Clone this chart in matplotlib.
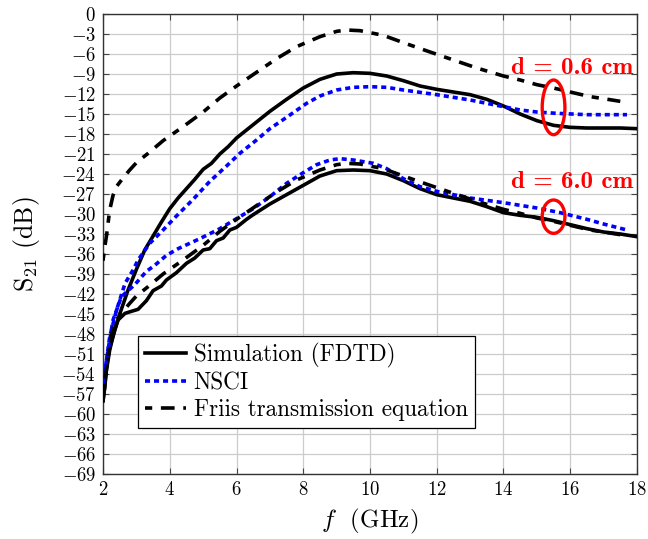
import matplotlib
matplotlib.use("Agg")
import matplotlib.pyplot as plt
from matplotlib.patches import Ellipse

plt.rcParams['font.family'] = 'cmr10'
plt.rcParams['mathtext.fontset'] = 'cm'
plt.rcParams['axes.formatter.use_mathtext'] = True

# d = 0.6 cm
sim06_f = [2.0, 2.05, 2.1, 2.2, 2.35, 2.5, 2.75, 3.0, 3.25, 3.5, 3.75, 4.0, 4.25, 4.5, 4.75,
           5.0, 5.25, 5.5, 5.75, 6.0, 6.5, 7.0, 7.5, 8.0, 8.5, 9.0, 9.5, 10.0, 10.5, 11.0,
           11.5, 12.0, 12.5, 13.0, 13.5, 14.0, 14.5, 15.0, 15.5, 16.0, 16.5, 17.0, 17.5, 18.0]
sim06_s = [-58, -56, -53, -50, -47.5, -45, -41.4, -38.3, -35.4, -33.3, -31.2, -29.2, -27.6, -26.2, -24.8,
           -23.3, -22.4, -21.0, -19.9, -18.6, -16.6, -14.6, -12.8, -11.1, -9.8, -9.0, -8.8, -8.9, -9.3, -10.0,
           -10.8, -11.3, -11.7, -12.1, -12.8, -13.8, -15.0, -16.0, -16.7, -17.0, -17.1, -17.1, -17.1, -17.2]

nsci06_f = [2.0, 2.1, 2.2, 2.4, 2.66, 2.9, 3.05, 3.4, 3.8, 4.2, 4.7, 5.2, 5.7, 6.1, 6.6, 7.0, 7.5,
            8.1, 8.5, 9.0, 9.5, 10.0, 10.5, 11.0, 12.0, 13.0, 14.0, 14.5, 15.0, 15.6, 16.5, 17.7]
nsci06_s = [-56, -52, -48.4, -44.5, -40.4, -38.4, -36.9, -34.4, -32.4, -30.3, -27.8, -25.1, -22.8, -20.9, -18.9, -17.2, -15.5,
            -13.4, -12.3, -11.4, -11.0, -10.9, -11.0, -11.4, -12.1, -12.9, -13.9, -14.4, -14.7, -14.9, -15.1, -15.1]

friis_f = [2.0, 2.05, 2.1, 2.2, 2.3, 2.4, 2.6, 2.8, 3.0, 3.35, 3.8, 4.4, 5.0, 5.5, 6.0, 6.7, 7.2,
           7.8, 8.5, 9.0, 9.3, 9.7, 10.0, 10.4, 11.0, 11.8, 12.5, 13.2, 14.0, 14.5, 15.0, 15.5,
           16.0, 16.6, 17.0, 17.5]
friis06_s = [-37, -35, -33.4, -29.4, -27.2, -25.9, -24.6, -23.4, -22.3, -20.9, -19.0, -16.9, -14.7, -12.6, -10.8, -8.4, -6.7,
             -4.9, -3.4, -2.6, -2.4, -2.5, -2.8, -3.2, -4.3, -5.7, -6.9, -8.1, -9.3, -9.9, -10.6, -11.1,
             -11.7, -12.4, -12.7, -13.1]

# d = 6.0 cm
sim60_f = [2.0, 2.05, 2.1, 2.2, 2.35, 2.45, 2.66, 2.85, 3.05, 3.3, 3.5, 3.75, 3.9, 4.2, 4.5, 4.75,
           5.0, 5.2, 5.4, 5.6, 5.8, 6.0, 6.3, 6.5, 7.0, 7.5, 8.0, 8.5, 9.0, 9.5, 10.0, 10.5,
           11.0, 11.5, 12.0, 12.5, 13.0, 13.5, 14.0, 14.5, 15.0, 15.5, 16.0, 16.5, 17.0, 17.5, 18.0]
sim60_s = [-58, -56, -53.5, -50.4, -47.3, -45.9, -44.9, -44.6, -44.3, -43.0, -41.5, -40.8, -39.9, -38.8, -37.4, -36.6,
           -35.4, -35.2, -34.0, -33.6, -32.4, -32.0, -30.8, -30.1, -28.5, -27.1, -25.7, -24.3, -23.5, -23.4, -23.5, -24.0,
           -25.0, -26.2, -27.1, -27.6, -28.1, -28.9, -29.8, -30.2, -30.5, -31.0, -31.6, -32.2, -32.7, -33.0, -33.4]

nsci60_f = [2.0, 2.15, 2.3, 2.55, 2.95, 3.3, 3.55, 3.9, 4.25, 4.9, 5.5, 6.1, 6.5, 7.0, 7.5, 8.0, 8.4,
            8.8, 9.1, 9.5, 10.1, 10.5, 11.0, 11.5, 12.0, 13.0, 14.0, 14.5, 15.0, 15.7, 16.5, 17.0, 17.7]
nsci60_s = [-55.4, -50.4, -45.9, -42.4, -40.6, -38.6, -37.7, -36.2, -35.2, -33.7, -32.2, -30.4, -29.2, -27.4, -25.4, -23.8, -22.6,
            -21.9, -21.7, -21.9, -22.4, -23.2, -24.7, -25.9, -26.6, -27.6, -28.3, -28.7, -29.1, -29.8, -30.8, -31.5, -32.4]

friis60_s = [-57, -55, -53.4, -49.4, -47.2, -45.9, -44.6, -43.4, -42.3, -40.9, -39.0, -36.9, -34.7, -32.6, -30.8, -28.4, -26.7,
             -24.9, -23.4, -22.6, -22.4, -22.5, -22.8, -23.2, -24.3, -25.7, -26.9, -28.1, -29.3, -29.9, -30.6, -31.1,
             -31.7, -32.4, -32.7, -33.1]

x_ticks = [2, 4, 6, 8, 10, 12, 14, 16, 18]
y_ticks = list(range(0, -70, -3))

fig = plt.figure(figsize=(6.48, 5.39), dpi=100)
ax = fig.add_axes([0.159, 0.1206, 0.824, 0.8534])

lw = 2.6
dot = (1.4, 1.1)
dashdot = (2.0, 2.4, 3.8, 2.4)
ax.plot(sim06_f, sim06_s, color='black', lw=lw, label='Simulation (FDTD)', zorder=3)
ax.plot(nsci06_f, nsci06_s, color='blue', lw=lw, dashes=dot, label='NSCI', zorder=3)
ax.plot(friis_f, friis06_s, color='black', lw=lw, dashes=dashdot,
        label='Friis transmission equation', zorder=3)

ax.plot(sim60_f, sim60_s, color='black', lw=lw, zorder=3)
ax.plot(nsci60_f, nsci60_s, color='blue', lw=lw, dashes=dot, zorder=3)
ax.plot(friis_f, friis60_s, color='black', lw=lw, dashes=dashdot, zorder=3)

ax.add_patch(Ellipse((15.5, -14.0), 0.68, 8.2, fill=False, edgecolor='red', lw=2.4, zorder=4))
ax.add_patch(Ellipse((15.5, -30.4), 0.68, 5.0, fill=False, edgecolor='red', lw=2.4, zorder=4))
ax.text(17.88, -8.1, 'd = 0.6 cm', color='red', fontfamily='cmb10', fontsize=18,
        ha='right', va='center', zorder=5)
ax.text(17.88, -25.2, 'd = 6.0 cm', color='red', fontfamily='cmb10', fontsize=18,
        ha='right', va='center', zorder=5)

ax.set_xlim(2, 18)
ax.set_ylim(-69, 0)
ax.set_xticks(x_ticks)
ax.set_yticks(y_ticks)
ax.grid(True, color='#cccccc', lw=0.9)
ax.set_axisbelow(True)
ax.tick_params(direction='in', top=True, right=True, labelsize=13.5, pad=5, length=4, color='#444444')
for sp in ax.spines.values():
    sp.set_color('#333333')
    sp.set_linewidth(1.0)

ax.set_xlabel('$f$  (GHz)', fontsize=18, labelpad=6)
ax.set_ylabel('S$_{21}$ (dB)', fontsize=18.5, labelpad=14)

leg = ax.legend(loc='lower left', bbox_to_anchor=(0.0655, 0.1), borderaxespad=0,
                fontsize=16.7, fancybox=False, edgecolor='black', framealpha=1,
                handlelength=1.75, handletextpad=0.35, labelspacing=0.2, borderpad=0.3)
leg.get_frame().set_linewidth(0.9)

fig.savefig('out.png', dpi=100)
